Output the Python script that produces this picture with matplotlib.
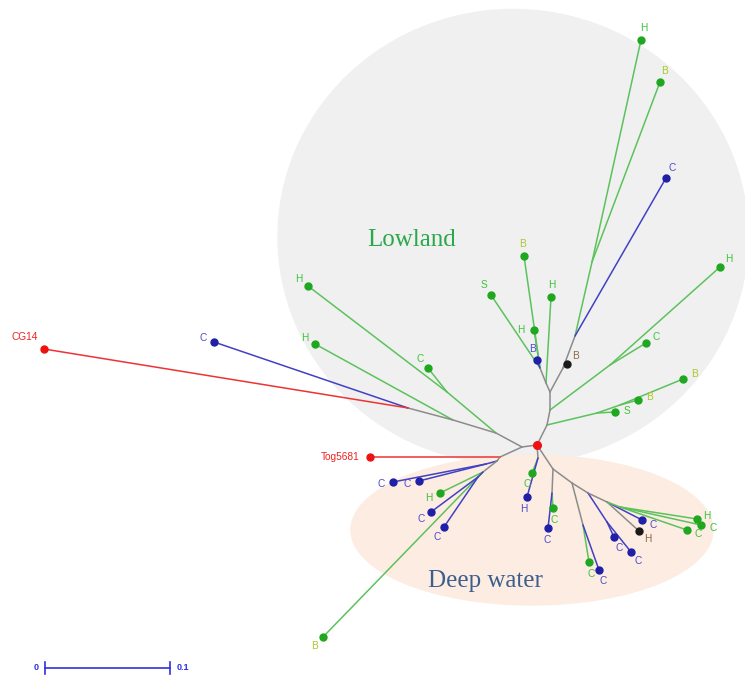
import numpy as np
import matplotlib
matplotlib.use('Agg')
import matplotlib.pyplot as plt
from matplotlib.patches import Ellipse

# Unrooted tree, node positions in drawing units (px, y pointing down)
# parent = index of parent node (-1 for the centre node)
node_x = [537,
          547, 597, 615, 620, 638, 683, 550, 610, 720, 646, 550, 546, 551,
          540, 491, 524, 534, 537, 563, 567, 575, 592, 641, 660, 666,
          522, 496, 447, 308, 428, 453, 315, 408, 214, 44,
          500, 370, 497, 486, 393, 419, 483, 440, 323, 478, 431, 444,
          538, 532, 527, 553, 552, 553, 548, 572, 583, 589, 599, 588, 607,
          614, 631, 607, 642, 639, 620, 697, 701, 687]
node_y = [445,
          425, 413, 412, 405, 400, 379, 410, 365, 267, 343, 392, 383, 297,
          368, 295, 256, 330, 360, 368, 364, 336, 262, 40, 82, 178,
          447, 433, 392, 286, 368, 420, 344, 408, 342, 349,
          457, 457, 461, 464, 482, 481, 472, 493, 637, 477, 512, 527,
          458, 473, 497, 469, 493, 508, 528, 483, 525, 562, 570, 493, 522,
          537, 552, 502, 520, 531, 507, 519, 525, 530]
parent = [-1,
          0, 1, 2, 2, 4, 4, 1, 7, 8, 8, 7, 11, 12,
          12, 14, 14, 14, 14, 11, 19, 19, 21, 22, 22, 21,
          0, 26, 27, 28, 28, 27, 31, 31, 33, 33,
          26, 36, 36, 38, 39, 39, 38, 42, 42, 42, 45, 45,
          0, 48, 48, 0, 51, 52, 52, 51, 55, 56, 56, 55, 59,
          60, 60, 59, 63, 63, 63, 66, 66, 66]
tip_label = ['',
             '', '', 'S', '', 'B', 'B', '', '', 'H', 'C', '', '', 'H',
             '', 'S', 'B', 'H', 'B', '', 'B', '', '', 'H', 'B', 'C',
             '', '', '', 'H', 'C', '', 'H', '', 'C', 'CG14',
             '', 'Tog5681', '', '', 'C', 'C', '', 'H', 'B', '', 'C', 'C',
             '', 'C', 'H', '', '', 'C', 'C', '', '', 'C', 'C', '', '',
             'C', 'C', '', 'C', 'H', '', 'H', 'C', 'C']
tip_group = ['',
             '', '', 'g', '', 'g', 'g', '', '', 'g', 'g', '', '', 'g',
             '', 'g', 'g', 'g', 'b', '', 'k', '', '', 'g', 'g', 'b',
             '', '', '', 'g', 'g', '', 'g', '', 'b', 'r',
             '', 'r', '', '', 'b', 'b', '', 'g', 'g', '', 'b', 'b',
             '', 'g', 'b', '', '', 'g', 'b', '', '', 'g', 'b', '', '',
             'b', 'b', '', 'b', 'k', '', 'g', 'g', 'g']

scale_len = 0.1
scale_px = 125

edge_col = {'g': '#5cc25c', 'b': '#4141c4', 'r': '#ee3333', 'k': '#8c8c8c'}
dot_col = {'g': '#1fa81f', 'b': '#1f1fa8', 'r': '#ee1111', 'k': '#1a1a1a'}
lab_col = {'g': '#3cc43c', 'b': '#4c4ccc', 'r': '#ee2222', 'k': '#8a6a40'}
grey = '#8c8c8c'

# label nudges where the default (along the branch) is not used
label_nudge = {17: (-13, 0), 35: (-19, -12), 37: (-30, 0),
               67: (10, -3), 68: (12, 3)}

n = len(node_x)
groups = [set([tip_group[i]]) if tip_group[i] else set() for i in range(n)]
for i in range(n - 1, 0, -1):
    groups[parent[i]] |= groups[i]

fig = plt.figure(figsize=(7.45, 6.78), dpi=100)
ax = fig.add_axes([0, 0, 1, 1])
ax.set_xlim(0, 745)
ax.set_ylim(678, 0)
ax.axis('off')

ax.add_patch(Ellipse((513, 237), 470, 455, color='#f0f0f0', zorder=0))
ax.add_patch(Ellipse((532, 530), 362, 150, color='#fcece1', zorder=1))

for i in range(1, n):
    p = parent[i]
    g = groups[i]
    c = edge_col[list(g)[0]] if len(g) == 1 else grey
    ax.plot([node_x[p], node_x[i]], [node_y[p], node_y[i]], color=c, lw=1.1,
            zorder=2, solid_capstyle='round')

for i in range(n):
    if not tip_label[i]:
        continue
    g = tip_group[i]
    ax.plot(node_x[i], node_y[i], 'o', color=dot_col[g], ms=5, zorder=4)
    if i in label_nudge:
        dx, dy = label_nudge[i]
    else:
        p = parent[i]
        v = np.array([node_x[i] - node_x[p], node_y[i] - node_y[p]], float)
        dx, dy = 12 * v / np.hypot(*v)
    lc = lab_col[g]
    if g == 'g' and tip_label[i] == 'B':
        lc = '#aac828'
    ax.text(node_x[i] + dx, node_y[i] + dy, tip_label[i], color=lc,
            fontsize=7.3, family='Liberation Sans', ha='center', va='center',
            zorder=5)

ax.plot(node_x[0], node_y[0], 'o', color='#ee1111', ms=5.5, zorder=4)

ax.text(412, 240, 'Lowland', color='#2aa84a', fontsize=18,
        family='Liberation Serif', ha='center', va='center', zorder=5)
ax.text(485, 581, 'Deep water', color='#3d5f8f', fontsize=18,
        family='Liberation Serif', ha='center', va='center', zorder=5)

# scale bar
sx0, sy = 45, 668
sx1 = sx0 + scale_px
ax.plot([sx0, sx1], [sy, sy], color='#3030e0', lw=1.2)
for sx in (sx0, sx1):
    ax.plot([sx, sx], [sy - 6, sy + 6], color='#3030e0', lw=1.2)
ax.text(sx0 - 9, sy, '0', color='#3030e0', fontsize=6.5,
        family='Liberation Sans', ha='center', va='center', weight='bold')
ax.text(sx1 + 13, sy, str(scale_len), color='#3030e0', fontsize=6.5,
        family='Liberation Sans', ha='center', va='center', weight='bold')

fig.savefig('out.png', dpi=100)
